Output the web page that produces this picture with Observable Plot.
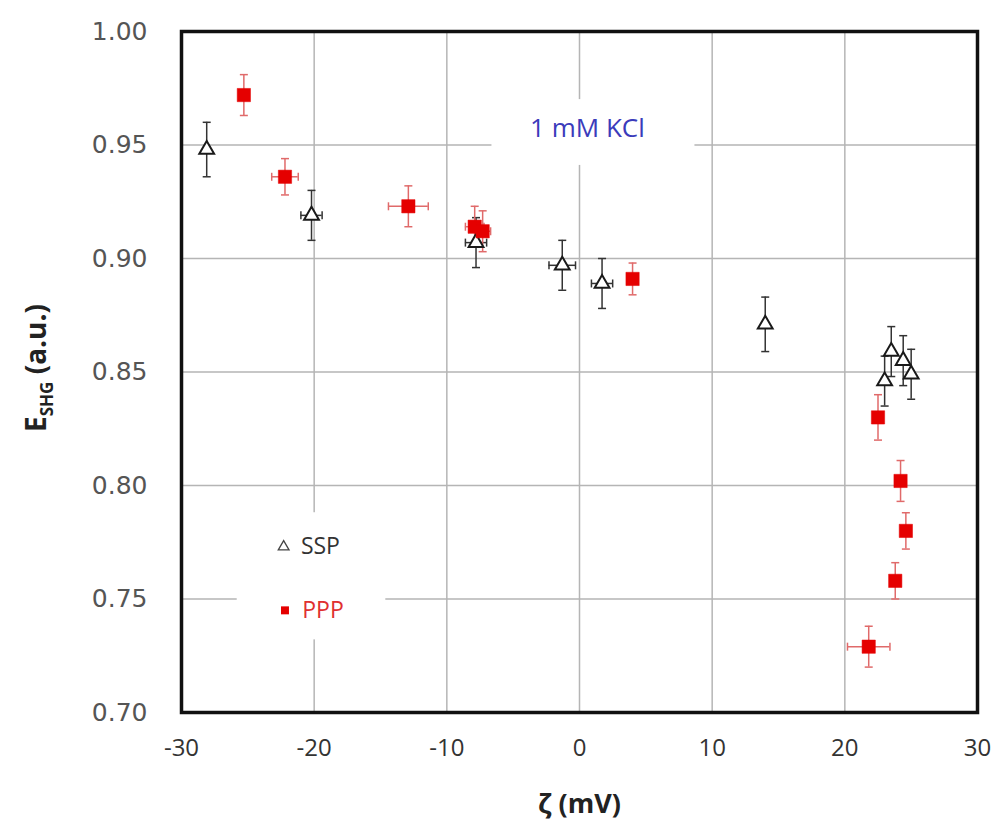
<!DOCTYPE html>
<html>
<head>
<meta charset="utf-8">
<script src="https://cdn.jsdelivr.net/npm/d3@7"></script>
<script src="https://cdn.jsdelivr.net/npm/@observablehq/plot@0.6"></script>
<style>
  html, body { margin: 0; padding: 0; background: #fff; }
</style>
</head>
<body>
<div id="chart"></div>
<script>
// ---- data ----
const sspX    = [-28.1, -20.2, -7.8, -1.3, 1.7, 14.0, 23.0, 23.5, 24.4, 25.0];
const sspY    = [0.948, 0.919, 0.907, 0.897, 0.889, 0.871, 0.846, 0.859, 0.855, 0.849];
const sspYErr = [0.012, 0.011, 0.011, 0.011, 0.011, 0.012, 0.011, 0.011, 0.011, 0.011];
const sspXErr = [0.2, 0.8, 0.8, 1.0, 0.8, 0.2, 0.3, 0.3, 0.3, 0.3];

const pppX    = [-25.3, -22.2, -12.9, -7.9, -7.3, 4.0, 22.5, 24.2, 24.6, 23.8, 21.8];
const pppY    = [0.972, 0.936, 0.923, 0.914, 0.912, 0.891, 0.830, 0.802, 0.780, 0.758, 0.729];
const pppYErr = [0.009, 0.008, 0.009, 0.009, 0.009, 0.007, 0.010, 0.009, 0.008, 0.008, 0.009];
const pppXErr = [0.3, 1.0, 1.5, 0.7, 0.6, 0.3, 0.3, 0.3, 0.3, 0.3, 1.6];

const xTicks = [-30, -20, -10, 0, 10, 20, 30];
const yTicks = [0.70, 0.75, 0.80, 0.85, 0.90, 0.95, 1.00];

const seriesNames = ["SSP", "PPP"];
const annotationText = "1 mM KCl";
const xLabel = "ζ (mV)";

// legend / annotation anchors (data coordinates)
const legendBox = {x1: -25.8, x2: -14.6, y1: 0.732, y2: 0.788};
const legendRows = [{x: -22.3, y: 0.773}, {x: -22.2, y: 0.745}];
const noteBox = {x1: -6.6, x2: 8.7, y1: 0.941, y2: 0.970};
const notePos = {x: 0.6, y: 0.957};

// ---- build tables ----
const ssp = sspX.map((x, i) => ({x, y: sspY[i], ey: sspYErr[i], ex: sspXErr[i]}));
const ppp = pppX.map((x, i) => ({x, y: pppY[i], ey: pppYErr[i], ex: pppXErr[i]}));

const capH = {draw(ctx, size) { const r = Math.sqrt(size / Math.PI); ctx.moveTo(-r, 0); ctx.lineTo(r, 0); }};
const capV = {draw(ctx, size) { const r = Math.sqrt(size / Math.PI); ctx.moveTo(0, -r); ctx.lineTo(0, r); }};

function errMarks(data, color) {
  return [
    Plot.ruleX(data, {x: "x", y1: d => d.y - d.ey, y2: d => d.y + d.ey, stroke: color, strokeWidth: 1.5}),
    Plot.dot(data, {x: "x", y: d => d.y - d.ey, symbol: capH, r: 4, stroke: color, strokeWidth: 1.5}),
    Plot.dot(data, {x: "x", y: d => d.y + d.ey, symbol: capH, r: 4, stroke: color, strokeWidth: 1.5}),
    Plot.ruleY(data, {y: "y", x1: d => d.x - d.ex, x2: d => d.x + d.ex, stroke: color, strokeWidth: 1.5}),
    Plot.dot(data.filter(d => d.ex >= 0.5), {x: d => d.x - d.ex, y: "y", symbol: capV, r: 4, stroke: color, strokeWidth: 1.5}),
    Plot.dot(data.filter(d => d.ex >= 0.5), {x: d => d.x + d.ex, y: "y", symbol: capV, r: 4, stroke: color, strokeWidth: 1.5})
  ];
}

const red = "#e50000";
const dark = "#1a1a1a";

const chart = Plot.plot({
  width: 995,
  height: 838,
  marginLeft: 181,
  marginRight: 18,
  marginTop: 31,
  marginBottom: 126,
  style: {fontFamily: "'Open Sans', sans-serif", background: "#fff"},
  x: {domain: [-30, 30]},
  y: {domain: [0.70, 1.00]},
  marks: [
    Plot.gridX(xTicks.slice(1, -1), {stroke: "#b5b5b5", strokeOpacity: 1, strokeWidth: 1.5}),
    Plot.gridY(yTicks.slice(1, -1), {stroke: "#b5b5b5", strokeOpacity: 1, strokeWidth: 1.5}),
    Plot.rect([legendBox], {x1: "x1", x2: "x2", y1: "y1", y2: "y2", fill: "#fff"}),
    Plot.rect([noteBox], {x1: "x1", x2: "x2", y1: "y1", y2: "y2", fill: "#fff"}),
    ...errMarks(ssp, "#333"),
    ...errMarks(ppp, "#e06a6a"),
    Plot.dot(ssp, {x: "x", y: "y", symbol: "triangle", r: 5.5, fill: "#fff", stroke: dark, strokeWidth: 2}),
    Plot.dot(ppp, {x: "x", y: "y", symbol: "square", r: 7.5, fill: red, stroke: red, strokeWidth: 0.5}),
    Plot.frame({stroke: "#111", strokeWidth: 3.5}),
    Plot.axisX(xTicks, {tickSize: 0, tickPadding: 26, fontSize: 24, label: null, fill: "#333", tickFormat: d => String(d)}),
    Plot.axisY(yTicks, {tickSize: 0, tickPadding: 34, fontSize: 25, label: null, tickFormat: d3.format(".2f"), fill: "#555", fontFamily: "'DejaVu Sans', sans-serif"}),
    Plot.text([xLabel], {frameAnchor: "bottom", dy: 100, fontSize: 27, fontWeight: "bold", fill: "#222"}),
    Plot.text([annotationText], {x: () => notePos.x, y: () => notePos.y, fontSize: 26, fill: "#3b3bbb"}),
    Plot.dot([legendRows[0]], {x: "x", y: "y", symbol: "triangle", r: 4, fill: "#fff", stroke: "#444", strokeWidth: 1.3}),
    Plot.dot([legendRows[1]], {x: "x", y: "y", symbol: "square", r: 4.5, fill: red}),
    Plot.text([seriesNames[0]], {x: () => legendRows[0].x + 1.3, y: () => legendRows[0].y, textAnchor: "start", fontSize: 23, fill: "#333"}),
    Plot.text([seriesNames[1]], {x: () => legendRows[1].x + 1.3, y: () => legendRows[1].y, textAnchor: "start", fontSize: 23, fill: "#e03030"})
  ]
});

// y-axis label with subscript
const svg = d3.select(chart);
const yl = svg.append("text")
  .attr("transform", "translate(46,368) rotate(-90)")
  .attr("text-anchor", "middle")
  .attr("font-family", "'Open Sans', sans-serif")
  .attr("font-weight", "bold")
  .attr("font-size", 28)
  .attr("fill", "#222");
yl.append("tspan").text("E");
yl.append("tspan").attr("font-size", 17).attr("dy", 7).text("SHG");
yl.append("tspan").attr("dy", -7).text(" (a.u.)");

document.getElementById("chart").appendChild(chart);
</script>
</body>
</html>
